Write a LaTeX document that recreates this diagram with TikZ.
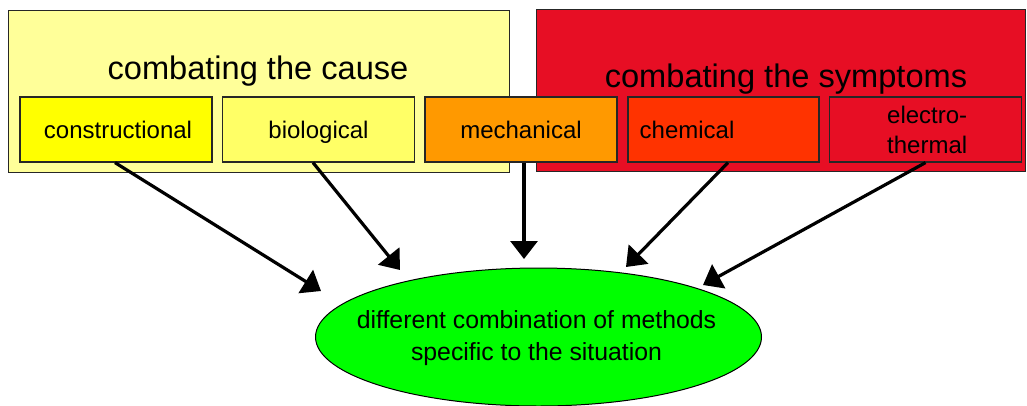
\documentclass[tikz,border=0pt]{standalone}
\usepackage{fontspec}
\setmainfont{Liberation Sans}
\usetikzlibrary{arrows.meta,shapes.geometric,calc}
\definecolor{causebg}{HTML}{FFFF99}
\definecolor{symptbg}{HTML}{E70E24}
\definecolor{constr}{HTML}{FFFF00}
\definecolor{biol}{HTML}{FFFF66}
\definecolor{mechan}{HTML}{FF9900}
\definecolor{chemic}{HTML}{FF3300}
\definecolor{combo}{HTML}{00FF00}
\begin{document}
\begin{tikzpicture}[x=1pt,y=-1pt,
  panel/.style={draw=black!85, line width=1pt, inner sep=0pt, minimum height=162pt},
  method/.style={draw=black!85, line width=1.2pt, inner sep=0pt, minimum width=192pt, minimum height=65pt},
  titletext/.style={anchor=base, inner sep=0pt, font=\fontsize{32.6}{38}\selectfont},
  boxtext/.style={anchor=base, inner sep=0pt, font=\fontsize{24}{30}\selectfont},
  flow/.style={line width=3.2pt, -{Triangle[width=27pt,length=18pt]}}]
\useasboundingbox (0,0) rectangle (1027,405);

% the two group panels
\node[panel, fill=causebg, minimum width=501pt] (cause) at (258.5,91) {};
\node[panel, fill=symptbg, minimum width=489pt] (sympt) at (780.5,90) {};
\node[titletext] (causetitle) at (258,79) {combating the cause};
\node[titletext] (sympttitle) at (786,87.5) {combating the symptoms};

% the individual methods
\node[method, fill=constr] (cons) at (116,129.5) {};
\node[method, fill=biol] (bio) at (318.5,129.5) {};
\node[method, fill=mechan] (mech) at (521,129.5) {};
\node[method, fill=chemic, minimum width=191pt] (chem) at (723.5,129.5) {};
\node[method, fill=symptbg] (elec) at (925.5,129.5) {};
\node[boxtext] (conslbl) at (118,138) {constructional};
\node[boxtext] (biolbl) at (318.5,138) {biological};
\node[boxtext] (mechlbl) at (521,138) {mechanical};
\node[boxtext, anchor=base west] (chemlbl) at (639.5,138) {chemical};
\node[boxtext, anchor=base west] (eleclbl1) at (887,123) {electro-};
\node[boxtext, anchor=base west] (eleclbl2) at (887,153) {thermal};

% the combined result
\node[ellipse, draw=black, line width=1pt, fill=combo, inner sep=0pt,
      minimum width=446pt, minimum height=138pt] (result) at (538.5,337) {};
\node[boxtext, anchor=center, align=center, font=\fontsize{24.8}{32}\selectfont]
  (resultlbl) at (536.5,338) {different combination of methods\\specific to the situation};

% arrow tips, just short of the ellipse
\coordinate (tip1) at (321,291);
\coordinate (tip2) at (400,270);
\coordinate (tip3) at (524,259);
\coordinate (tip4) at (626,267);
\coordinate (tip5) at (703,285);

\draw[flow] ($(cons.south)+(-1,0)$) -- (tip1);
\draw[flow] ($(bio.south)+(-5.5,0)$) -- (tip2);
\draw[flow] ($(mech.south)+(3,0)$) -- (tip3);
\draw[flow] ($(chem.south)+(4.5,0)$) -- (tip4);
\draw[flow] (elec.south) -- (tip5);
\end{tikzpicture}
\end{document}
